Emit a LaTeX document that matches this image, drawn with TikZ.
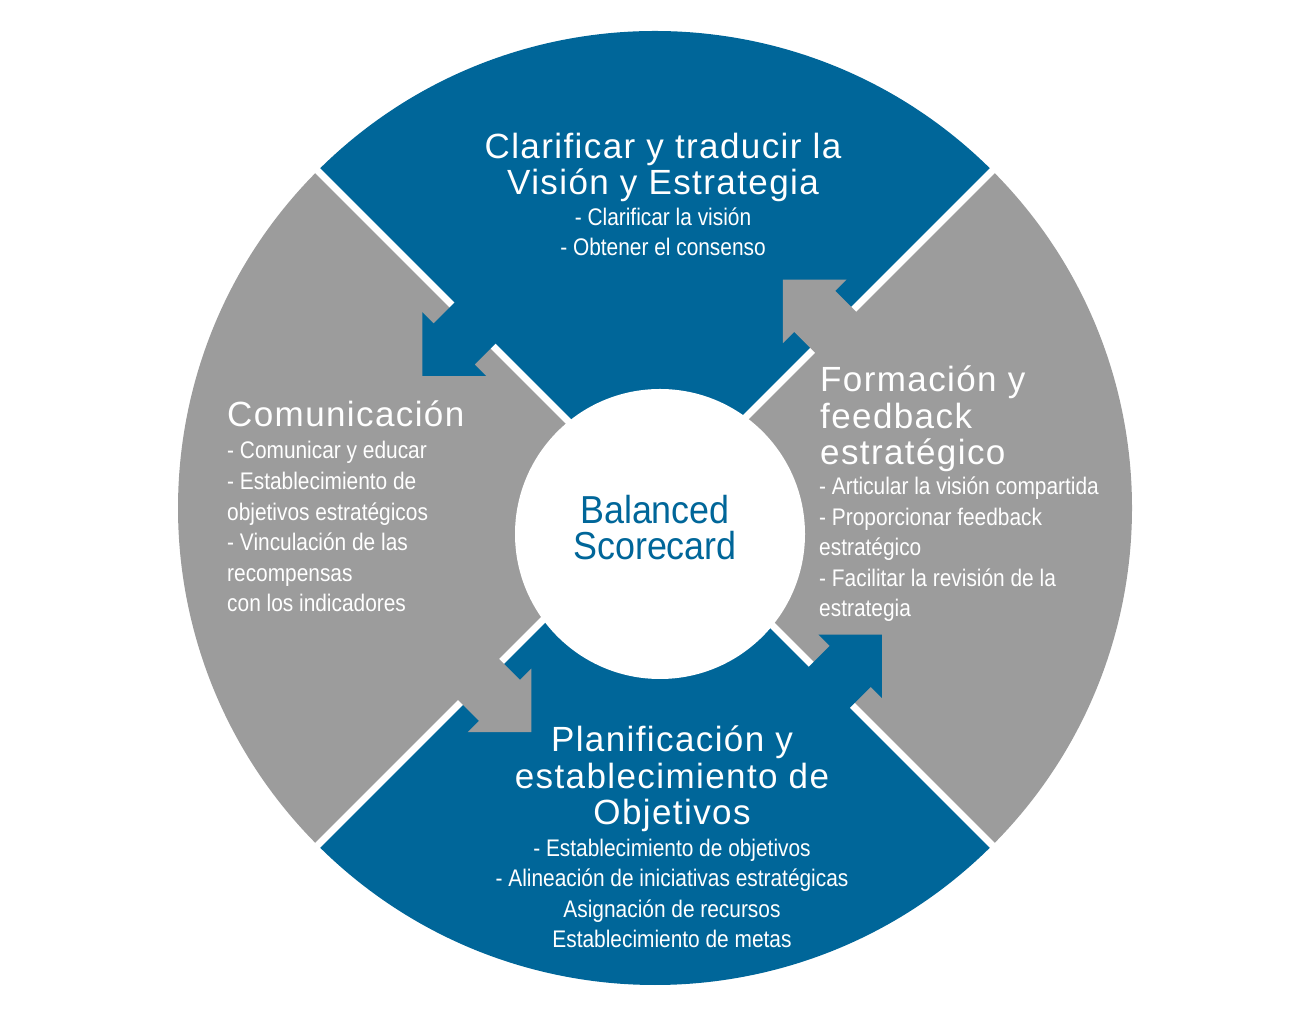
\documentclass[tikz,border=0pt]{standalone}
\usepackage{fontspec}
\setmainfont{Liberation Sans}
\newfontfamily\titlef{Liberation Sans}[LetterSpace=4]
\newfontfamily\bodyf{Liberation Sans}[FakeStretch=0.87]
\newfontfamily\bsf{Liberation Sans}[FakeStretch=0.92]
\definecolor{bscblue}{RGB}{0,102,153}
\definecolor{bscgray}{RGB}{156,156,156}
\begin{document}
\begin{tikzpicture}[x=1pt,y=1pt,
  titletext/.style={text=white, inner sep=0pt, font=\titlef\fontsize{35}{36.5}\selectfont},
  bodytext/.style={text=white, inner sep=0pt, font=\bodyf\fontsize{24}{30.6}\selectfont},
  hubtext/.style={text=bscblue, inner sep=0pt, align=center, font=\bsf\fontsize{39}{36}\selectfont},
  gapline/.style={white, line width=7pt},
  hub/.style={circle, fill=white, inner sep=0pt, minimum size=290pt}
]
\useasboundingbox (0,0) rectangle (1300,1016);
\coordinate (O) at (655,508);
% sectors
\fill[bscblue] (O) -- ++(45:477pt) arc[start angle=45,end angle=135,radius=477pt] -- cycle;
\fill[bscgray] (O) -- ++(135:477pt) arc[start angle=135,end angle=225,radius=477pt] -- cycle;
\fill[bscblue] (O) -- ++(225:477pt) arc[start angle=225,end angle=315,radius=477pt] -- cycle;
\fill[bscgray] (O) -- ++(315:477pt) arc[start angle=315,end angle=405,radius=477pt] -- cycle;
% gaps
\foreach \a in {45,135,225,315} \draw[gapline] (O) -- ++(\a:490pt);
% arrows (counter-clockwise)
\foreach \a/\c/\u in {135/bscblue/258,45/bscgray/252,225/bscgray/246,315/bscblue/250}
  \fill[\c, shift={(O)}, rotate=\a] (\u-29,-14) -- (\u-29,26) -- (\u-45,26) -- (\u,71) -- (\u+45,26) -- (\u+29,26) -- (\u+29,-14) -- cycle;
% hub
\node[hub] (hubc) at (660,482) {};
\node[hubtext, anchor=base] (hubt) at (655,456) {Balanced\\Scorecard};
% top
\node[titletext, align=center, anchor=base] (toptitle) at (663,821) {Clarificar y traducir la\\Visión y Estrategia};
\node[bodytext, align=center, anchor=base] (topbody) at (663,760) {- Clarificar la visión\\- Obtener el consenso};
% left
\node[titletext, align=left, anchor=base west] (lefttitle) at (227,589) {Comunicación};
\node[bodytext, align=left, anchor=base west] (leftbody) at (227,404) {- Comunicar y educar\\- Establecimiento de\\objetivos estratégicos\\- Vinculación de las\\recompensas\\con los indicadores};
% right
\node[titletext, align=left, anchor=base west] (righttitle) at (820,551) {Formación y\\feedback\\estratégico};
\node[bodytext, align=left, anchor=base west] (rightbody) at (819,399) {- Articular la visión compartida\\- Proporcionar feedback\\estratégico\\- Facilitar la revisión de la\\estrategia};
% bottom
\node[titletext, align=center, anchor=base] (bottitle) at (672,191) {Planificación y\\establecimiento de\\Objetivos};
\node[bodytext, align=center, anchor=base] (botbody) at (672,68) {- Establecimiento de objetivos\\- Alineación de iniciativas estratégicas\\Asignación de recursos\\Establecimiento de metas};
\end{tikzpicture}
\end{document}
